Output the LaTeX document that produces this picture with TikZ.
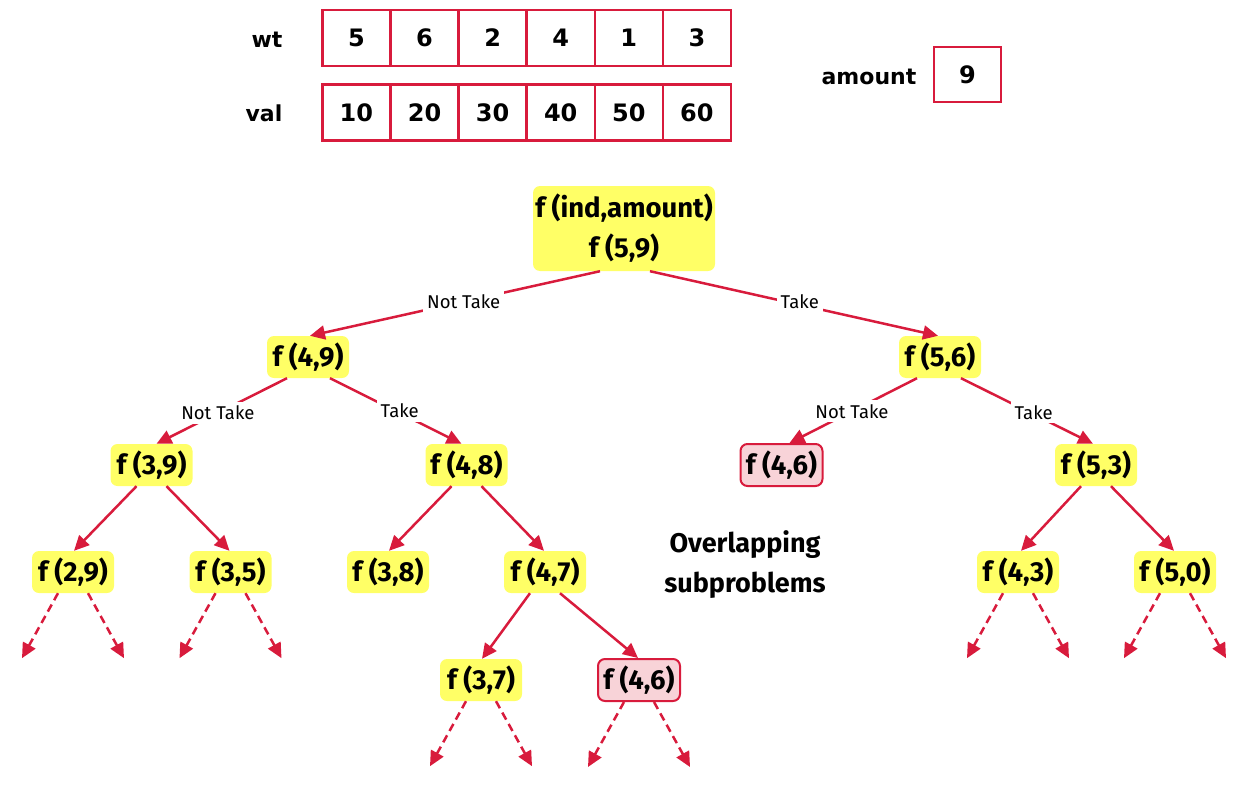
\documentclass[tikz,border=0pt]{standalone}
\usepackage{fontspec}
\setmainfont{Fira Sans}
\newfontfamily\topfont{DejaVu Sans}
\usetikzlibrary{arrows.meta,calc}
\definecolor{cred}{HTML}{D81B3C}
\definecolor{cyel}{HTML}{FFFF66}
\definecolor{cpink}{HTML}{F8D3D8}
\tikzset{
  fn/.style={fill=cyel, rounded corners=7pt, minimum width=82pt, minimum height=42pt, inner sep=0pt,
    font=\fontsize{27.5}{30}\selectfont\bfseries},
  pn/.style={fn, fill=cpink, draw=cred, line width=2pt},
  edge/.style={draw=cred, line width=2.5pt, -{Triangle[length=15pt,width=14pt]}},
  dedge/.style={edge, dash pattern=on 8pt off 5pt},
  elab/.style={fill=white, inner sep=4pt, font=\fontsize{18.5}{20}\selectfont},
  cell/.style={draw=cred, line width=2.5pt, minimum width=68.1pt, minimum height=56pt, inner sep=0pt,
    font=\topfont\fontsize{24}{28}\selectfont\bfseries},
  toplab/.style={font=\topfont\fontsize{22}{26}\selectfont\bfseries, inner sep=0pt}
}
\begin{document}
\begin{tikzpicture}[x=1pt,y=-1pt]
\useasboundingbox (0,0) rectangle (1253,787);
% arrays
\node[toplab] (wt) at (267,40) {wt};
\node[toplab] (val) at (264,113) {val};
\foreach \v [count=\i from 0] in {5,6,2,4,1,3}
  \node[cell] (w\i) at (356.4+68.1*\i,38) {\v};
\foreach \v [count=\i from 0] in {10,20,30,40,50,60}
  \node[cell] (v\i) at (356.4+68.1*\i,112.5) {\v};
\node[toplab] (amt) at (869,77) {amount};
\node[cell, minimum width=67pt, minimum height=55pt] (amtv) at (967.5,74.5) {9};
% tree nodes
\node[fn, minimum width=182pt, minimum height=85pt, align=center, font=\fontsize{27.5}{40}\selectfont\bfseries] (r) at (624,228.5) {f (ind,amount)\\f (5,9)};
\node[fn] (a1) at (308,357) {f (4,9)};
\node[fn] (a2) at (940,357) {f (5,6)};
\node[fn] (b1) at (151.5,465) {f (3,9)};
\node[fn] (b2) at (466.5,465) {f (4,8)};
\node[pn] (b3) at (781.5,465) {f (4,6)};
\node[fn] (b4) at (1096,465) {f (5,3)};
\node[fn] (c1) at (73,572) {f (2,9)};
\node[fn] (c2) at (230.5,572) {f (3,5)};
\node[fn] (c3) at (388,572) {f (3,8)};
\node[fn] (c4) at (545,572) {f (4,7)};
\node[fn] (c5) at (1018,572) {f (4,3)};
\node[fn] (c6) at (1175,572) {f (5,0)};
\node[fn] (d1) at (481,680) {f (3,7)};
\node[pn] (d2) at (639,680) {f (4,6)};
\node[font=\fontsize{27}{40}\selectfont\bfseries, align=center] (ov) at (745,565) {Overlapping\\subproblems};
% edges
\draw[edge] ([xshift=-24pt]r.south) -- node[elab,pos=0.47]{Not Take} ([xshift=2pt]a1.north);
\draw[edge] ([xshift=26pt]r.south) -- node[elab,pos=0.52,yshift=3pt]{Take} ([xshift=-2pt]a2.north);
\draw[edge] ([xshift=-21pt]a1.south) -- node[elab,pos=0.53]{Not Take} ([xshift=5pt]b1.north);
\draw[edge] ([xshift=22pt]a1.south) -- node[elab,pos=0.53,yshift=2pt]{Take} ([xshift=-5pt]b2.north);
\draw[edge] ([xshift=-23pt]a2.south) -- node[elab,pos=0.51]{Not Take} ([xshift=8pt]b3.north);
\draw[edge] ([xshift=21pt]a2.south) -- node[elab,pos=0.55,yshift=2pt]{Take} ([xshift=-3pt]b4.north);
\draw[edge] ([xshift=-15pt]b1.south) -- ([xshift=1pt]c1.north);
\draw[edge] ([xshift=15pt]b1.south) -- ([xshift=-1pt]c2.north);
\draw[edge] ([xshift=-15pt]b2.south) -- ([xshift=1pt]c3.north);
\draw[edge] ([xshift=15pt]b2.south) -- ([xshift=-1pt]c4.north);
\draw[edge] ([xshift=-15pt]b4.south) -- ([xshift=3pt]c5.north);
\draw[edge] ([xshift=15pt]b4.south) -- ([xshift=-1pt]c6.north);
\draw[edge] ([xshift=-15pt]c4.south) -- ([xshift=1pt]d1.north);
\draw[edge] ([xshift=15pt]c4.south) -- ([xshift=-1pt]d2.north);
% dashed continuations
\foreach \n in {c1,c2,c5,c6,d1,d2}{
  \coordinate (\n l) at ($(\n.south)+(-51,65)$);
  \coordinate (\n r) at ($(\n.south)+(51,65)$);
  \draw[dedge] ([xshift=-15pt]\n.south) -- (\n l);
  \draw[dedge] ([xshift=15pt]\n.south) -- (\n r);
}
\end{tikzpicture}
\end{document}
